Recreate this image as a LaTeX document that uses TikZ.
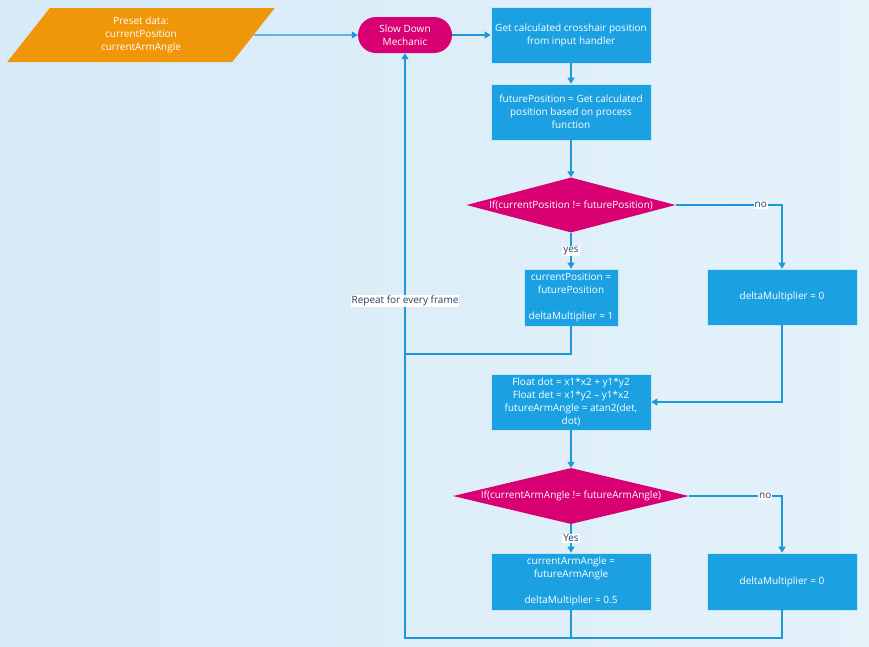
\documentclass[tikz,border=0pt]{standalone}
\usepackage{fontspec}
\setmainfont{Open Sans}
\usetikzlibrary{shapes.geometric,arrows.meta}
\definecolor{metroblue}{HTML}{1BA1E2}
\definecolor{metromagenta}{HTML}{D80073}
\definecolor{metroorange}{HTML}{F09609}
\definecolor{flowline}{HTML}{1E98D8}
\definecolor{labeltext}{HTML}{2B3F5C}
\definecolor{bgleft}{HTML}{D6EAF7}
\definecolor{bgright}{HTML}{E4F2FA}

\begin{document}
\begin{tikzpicture}[x=1pt,y=-1pt,
  every node/.style={font=\fontsize{10}{13}\selectfont},
  process/.style={rectangle, fill=metroblue, draw=white!75!metroblue, line width=0.6pt,
    text=white, align=center, minimum width=160pt, minimum height=56pt, inner sep=0pt},
  decision/.style={diamond, fill=metromagenta, text=white, align=center, inner sep=0pt,
    aspect=4.2, minimum width=209pt, minimum height=55pt},
  terminal/.style={rectangle, rounded corners=18pt, fill=metromagenta, text=white,
    align=center, minimum width=94pt, minimum height=36pt, inner sep=0pt},
  dataio/.style={trapezium, trapezium left angle=62.6, trapezium right angle=117.4,
    trapezium stretches=true, fill=metroorange, text=white, align=center, inner sep=0pt,
    minimum width=268pt, minimum height=54pt},
  flow/.style={draw=flowline, line width=1.1pt, -{Triangle[width=7pt,length=6pt]}},
  link/.style={draw=flowline, line width=1.1pt},
  tag/.style={fill=white, text=labeltext, inner sep=1pt}
]
% background
\shade[left color=bgleft, right color=bgright] (0,0) rectangle (869,646);
\useasboundingbox (0,0) rectangle (869,646);

% nodes
\node[dataio] (preset) at (141,35) {Preset data:\\currentPosition\\currentArmAngle};
\node[terminal] (slow) at (405,35) {Slow Down\\Mechanic};
\node[process] (get) at (571,35) {Get calculated crosshair position\\from input handler};
\node[process] (future) at (571,112) {futurePosition = Get calculated\\position based on process\\function};
\node[decision] (ifpos) at (571,205) {If(currentPosition != futurePosition)};
\node[process, minimum width=94pt, minimum height=57pt] (setpos) at (571,297.5)
  {currentPosition =\\futurePosition\\~\\deltaMultiplier = 1};
\node[process, minimum width=150pt] (zero1) at (782,297) {deltaMultiplier = 0};
\node[process] (angle) at (571,402) {Float dot = x1*x2 + y1*y2\\Float det = x1*y2 -- y1*x2\\futureArmAngle = atan2(det,\\dot)};
\node[decision, minimum width=236pt, minimum height=56pt] (ifang) at (571,496) {If(currentArmAngle != futureArmAngle)};
\node[process, minimum height=57pt] (setang) at (571,581.5)
  {currentArmAngle =\\futureArmAngle\\~\\deltaMultiplier = 0.5};
\node[process, minimum width=150pt, minimum height=57pt] (zero2) at (782,581.5) {deltaMultiplier = 0};

\coordinate (loopA) at (405,354);
\coordinate (loopB) at (405,638);

% connectors
\draw[flow] (preset) -- (slow);
\draw[flow] (slow) -- (get);
\draw[flow] (get) -- (future);
\draw[flow] (future) -- (ifpos);
\draw[flow] (ifpos.east) -| node[tag, pos=0.4] {no} (zero1.north);
\draw[flow] (ifpos.south) -- node[tag] {yes} (setpos.north);
\draw[link] (setpos.south) |- (loopA);
\draw[flow] (zero1.south) |- (angle.east);
\draw[flow] (angle) -- (ifang);
\draw[flow] (ifang.east) -| node[tag, pos=0.41] {no} (zero2.north);
\draw[flow] (ifang.south) -- node[tag] {Yes} (setang.north);
\draw[link] (setang.south) -- (setang.south |- loopB);
\draw[flow] (zero2.south) |- (loopB) -- node[tag, pos=0.576] {Repeat for every frame} (slow.south);
\end{tikzpicture}
\end{document}
